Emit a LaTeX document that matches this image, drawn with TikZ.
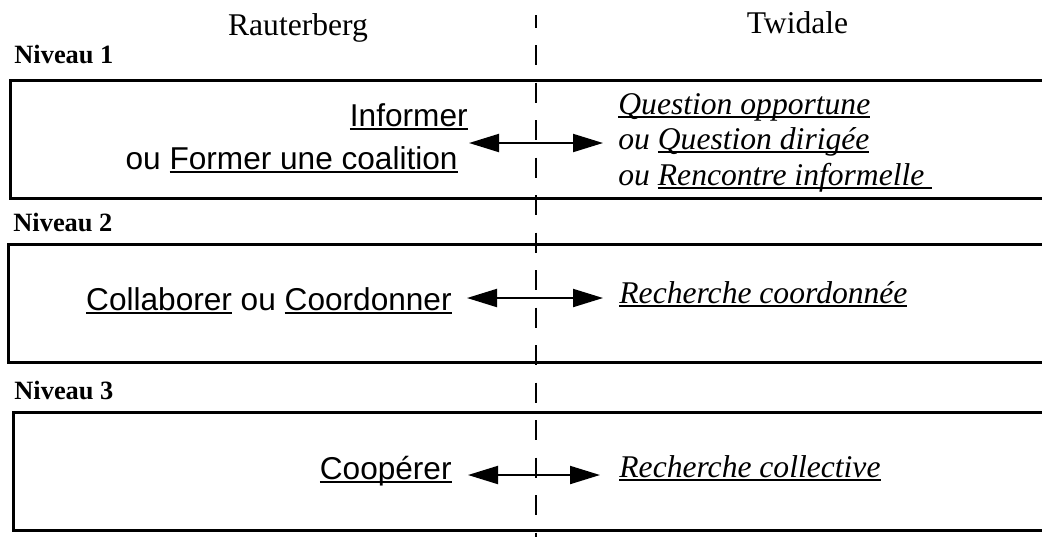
\documentclass[tikz,border=0pt]{standalone}
\usepackage{fontspec}
\setmainfont{Liberation Serif}
\setsansfont{Liberation Sans}
\usepackage{tikz}
\usetikzlibrary{arrows.meta}
\newcommand{\ulin}[1]{\setbox0=\hbox{#1}\rlap{\rule[-1.8pt]{\wd0}{1pt}}\box0\relax}
\tikzset{
  head/.style={font=\fontsize{15.8}{18}\selectfont,inner sep=0pt,anchor=base},
  level/.style={font=\fontsize{13.2}{15}\selectfont\bfseries,inner sep=0pt,anchor=base west},
  act/.style={font=\sffamily\fontsize{15.8}{18}\selectfont,inner sep=0pt,anchor=base east},
  search/.style={font=\itshape\fontsize{15.8}{18}\selectfont,inner sep=0pt,anchor=base west},
  band/.style={line width=1.5pt},
  pair/.style={line width=1pt,{Triangle[length=15pt,width=9pt]}-{Triangle[length=15pt,width=9pt]}},
  divider/.style={line width=1pt,dash pattern=on 10pt off 8.75pt,dash phase=3.75pt}
}

\begin{document}
\begin{tikzpicture}[x=.5pt,y=-.5pt]
    \useasboundingbox (0,0) rectangle (1042,537);
    % column heads
    \node[head] (raut) at (298,35) {Rauterberg};
    \node[head] (twid) at (797.5,33) {Twidale};
    \coordinate (divtop) at (535.5,15);
    \coordinate (divbot) at (535.5,537);
    \draw[divider] (divtop) -- (divbot);
    % level 1
    \node[level] (lev1) at (14,63) {Niveau 1};
    \draw[band] (1050,80) -- (10,80) -- (10,198) -- (1050,198);
    \node[act] (inf) at (468,126) {\ulin{Informer}};
    \node[act] (coal) at (458,169) {ou \ulin{Former une coalition}};
    \node[search] (qopp) at (618,114) {\ulin{Question opportune}};
    \node[search] (qdir) at (618,149) {ou \ulin{Question dirigée}};
    \node[search] (renc) at (618,185) {ou \ulin{Rencontre informelle\ }};
    \coordinate (a1l) at (469,143);
    \coordinate (a1r) at (603,143);
    \draw[pair] (a1l) -- (a1r);
    % level 2
    \node[level] (lev2) at (13,231) {Niveau 2};
    \draw[band] (1050,244) -- (8,244) -- (8,362) -- (1050,362);
    \node[act] (coll) at (452,310) {\ulin{Collaborer} ou \ulin{Coordonner}};
    \node[search] (rcoo) at (619,303) {\ulin{Recherche coordonnée}};
    \coordinate (a2l) at (467,298);
    \coordinate (a2r) at (603,298);
    \draw[pair] (a2l) -- (a2r);
    % level 3
    \node[level] (lev3) at (14,399) {Niveau 3};
    \draw[band] (1050,412) -- (13,412) -- (13,530) -- (1050,530);
    \node[act] (coop) at (452,479) {\ulin{Coopérer}};
    \node[search] (rcol) at (619,477) {\ulin{Recherche collective}};
    \coordinate (a3l) at (468,475);
    \coordinate (a3r) at (600,475);
    \draw[pair] (a3l) -- (a3r);
  \end{tikzpicture}
\end{document}
